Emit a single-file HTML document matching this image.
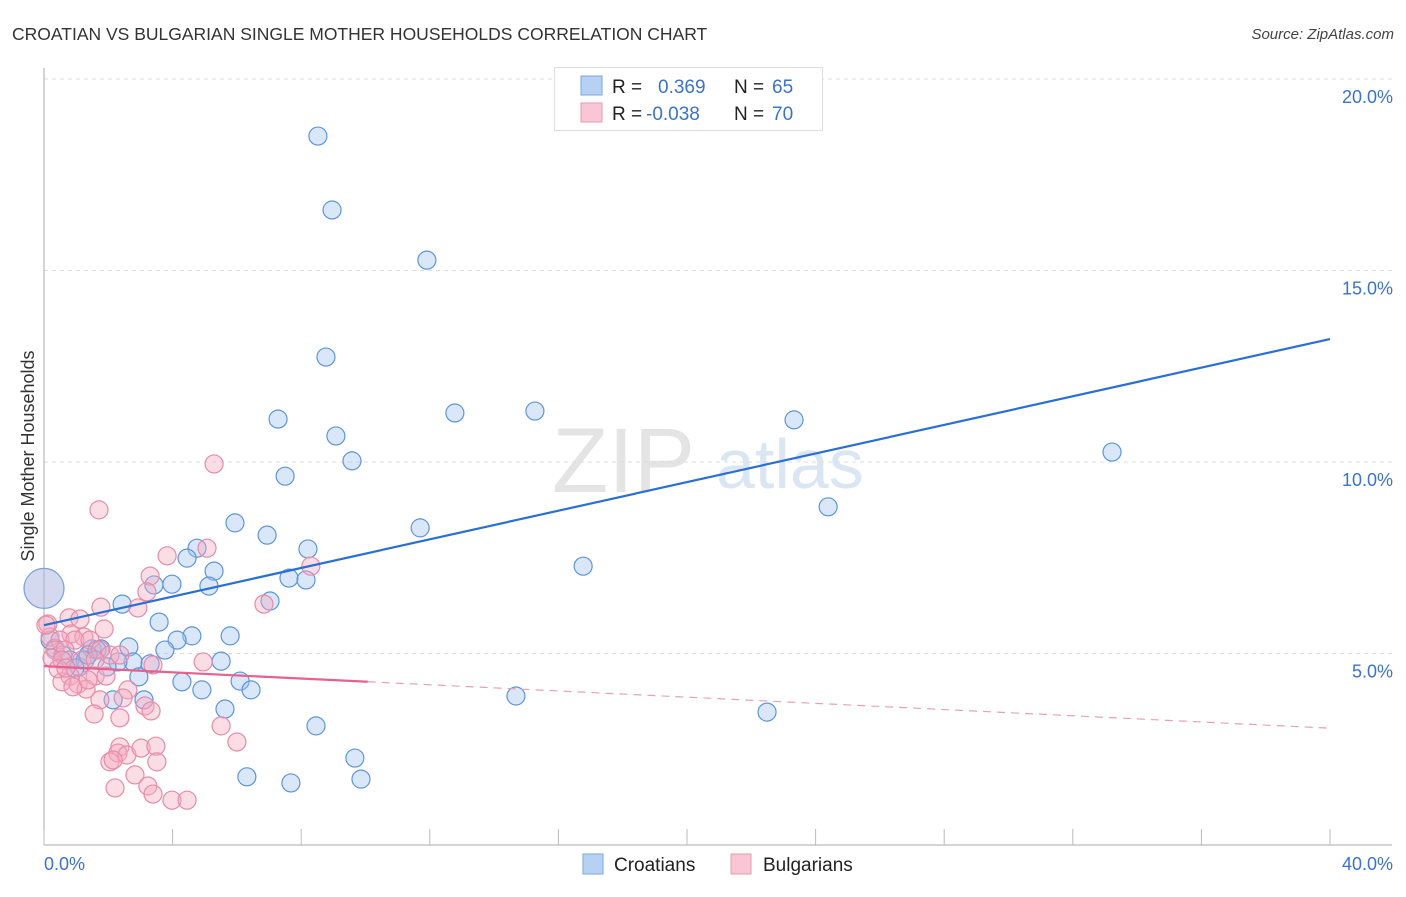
<!DOCTYPE html>
<html><head><meta charset="utf-8"><style>
body{margin:0;background:#fff;font-family:"Liberation Sans",sans-serif}
svg text{font-family:"Liberation Sans",sans-serif}
</style></head><body>
<svg id="chart" width="1406" height="892" viewBox="0 0 1406 892" xmlns="http://www.w3.org/2000/svg">
<text x="12" y="40" font-size="17.5" fill="#333">CROATIAN VS BULGARIAN SINGLE MOTHER HOUSEHOLDS CORRELATION CHART</text>
<text x="1394" y="39" font-size="15" fill="#444" font-style="italic" text-anchor="end">Source: ZipAtlas.com</text>
<g>
<text x="552" y="492" font-size="92" fill="#e4e4e4" font-family="Liberation Serif,serif">ZIP</text>
<text x="716" y="488" font-size="70" fill="#dbe6f5">atlas</text>
</g>
<g id="grid"></g>
<g id="axes"></g>
<g id="marks"></g>
<text transform="translate(34,456) rotate(-90)" font-size="18" fill="#333" text-anchor="middle">Single Mother Households</text>
<g>
<rect x="554.5" y="67.5" width="268" height="63" fill="#fff" stroke="#ddd"/>
<rect x="581" y="76" width="21" height="19" fill="#b7d1f5" stroke="#7aa6e3"/>
<rect x="581" y="103" width="21" height="19" fill="#f8c6d5" stroke="#eb98b0"/>
<text x="612" y="93" font-size="19" fill="#222">R =</text>
<text x="658" y="93" font-size="19" fill="#3a72cf">0.369</text>
<text x="734" y="93" font-size="19" fill="#222">N =</text>
<text x="772" y="93" font-size="19" fill="#3a72cf">65</text>
<text x="612" y="120" font-size="19" fill="#222">R =</text>
<text x="646" y="120" font-size="19" fill="#3a72cf">-0.038</text>
<text x="734" y="120" font-size="19" fill="#222">N =</text>
<text x="772" y="120" font-size="19" fill="#3a72cf">70</text>
</g>
<g>
<rect x="583" y="854" width="20" height="20" fill="#b7d1f5" stroke="#7aa6e3"/>
<text x="614" y="871" font-size="19" fill="#222">Croatians</text>
<rect x="731" y="854" width="20" height="20" fill="#f8c6d5" stroke="#eb98b0"/>
<text x="763" y="871" font-size="19" fill="#222">Bulgarians</text>
</g>
</svg>
<script>
const yTicks=[5,10,15,20];
const yTickLabels=["5.0%","10.0%","15.0%","20.0%"];
const xTicks=[0,4,8,12,16,20,24,28,32,36,40];
const croatianX=[8.52,8.96,11.91,8.77,7.28,12.78,15.27,9.08,9.58,7.50,23.33,33.22,24.39,5.94,11.70,6.94,4.76,8.21,4.45,5.29,16.77,7.62,8.15,3.98,3.42,5.13,7.03,2.43,3.58,5.79,4.60,4.14,2.64,3.76,1.77,1.49,2.77,2.30,3.30,5.51,1.96,1.09,2.95,4.29,6.10,4.91,6.44,2.15,3.11,14.68,5.63,22.49,8.46,9.67,6.31,9.86,7.68,0.34,0.59,0.81,1.28,0.96,0.19,1.65,1.37];
const croatianY=[18.51,16.58,15.27,12.74,11.12,11.28,11.33,10.68,10.03,9.63,11.10,10.26,8.83,8.41,8.28,8.09,7.75,7.73,7.49,7.15,7.28,6.97,6.92,6.81,6.79,6.76,6.37,6.29,5.82,5.46,5.46,5.35,5.17,5.09,5.12,5.12,4.78,4.78,4.73,4.80,4.65,4.65,4.39,4.26,4.28,4.05,4.05,3.79,3.79,3.89,3.55,3.47,3.11,2.27,1.78,1.72,1.62,5.14,4.96,4.83,4.83,4.62,5.35,5.09,4.96];
const bulgarianX=[5.29,1.71,3.83,5.07,8.30,3.30,3.20,2.92,1.77,6.84,0.78,1.12,0.12,0.84,1.87,0.19,1.24,0.50,0.96,1.43,0.34,0.65,1.74,2.05,0.25,0.56,1.18,1.59,2.36,3.39,4.95,0.81,0.56,1.06,1.31,1.59,1.93,2.61,1.74,2.46,3.14,3.33,2.36,5.51,6.00,2.36,2.30,2.58,3.02,3.48,2.05,2.15,2.83,3.51,3.23,2.21,3.39,3.98,4.45,1.56,0.44,0.90,0.68,1.37,0.06];
const bulgarianY=[9.95,8.75,7.55,7.75,7.28,7.02,6.61,6.19,6.21,6.29,5.93,5.90,5.77,5.51,5.64,5.43,5.43,5.35,5.35,5.35,5.09,5.09,5.09,4.96,4.88,4.83,4.83,4.83,4.96,4.70,4.78,4.41,4.26,4.20,4.07,4.41,4.41,4.05,3.79,3.84,3.63,3.50,3.32,3.11,2.69,2.56,2.40,2.35,2.53,2.58,2.17,2.22,1.83,2.17,1.54,1.49,1.33,1.17,1.17,3.42,4.60,4.13,4.62,4.31,5.74];
const bigPoint=[0,6.7];
const blueTrend=[5.74,13.21];
const pinkTrend=[4.67,3.05];
const pinkSolidEnd=10.07;

const X0=44,X1=1330,Y0=845,PXY=38.3;
const sx=v=>X0+(X1-X0)*v/40;
const sy=v=>Y0-v*PXY;
const NS="http://www.w3.org/2000/svg";
function mk(tag,attrs,parent){const e=document.createElementNS(NS,tag);for(const k in attrs)e.setAttribute(k,attrs[k]);document.getElementById(parent).appendChild(e);return e;}

yTicks.forEach((t,i)=>{
  const g=mk('line',{x1:X0,x2:1392,y1:sy(t),y2:sy(t),stroke:'#ddd','stroke-dasharray':'4,4'},'grid');
  
  
  const l=mk('text',{x:1393,y:sy(t)+24,'font-size':18,fill:'#3a72cf','text-anchor':'end'},'axes');
  l.textContent=yTickLabels[i];
  
  
});
const ya=mk('line',{x1:X0,x2:X0,y1:68,y2:Y0,stroke:'#aaa'},'axes');


const xa=mk('line',{x1:X0,x2:1392,y1:Y0,y2:Y0,stroke:'#aaa'},'axes');


xTicks.forEach(t=>{
  const tk=mk('line',{x1:sx(t),x2:sx(t),y1:829,y2:Y0,stroke:'#bbb'},'axes');
  
  
});
const xl0=mk('text',{x:44,y:870,'font-size':18,fill:'#3a72cf'},'axes');xl0.textContent='0.0%';


const xl1=mk('text',{x:1393,y:870,'font-size':18,fill:'#3a72cf','text-anchor':'end'},'axes');xl1.textContent='40.0%';



croatianX.forEach((x,i)=>{
  const c=mk('circle',{cx:sx(x),cy:sy(croatianY[i]),r:9,fill:'rgba(160,196,240,0.4)',stroke:'#5d95dc','stroke-width':1.2},'marks');
  
  
});
bulgarianX.forEach((x,i)=>{
  const c=mk('circle',{cx:sx(x),cy:sy(bulgarianY[i]),r:9,fill:'rgba(245,170,192,0.4)',stroke:'#e88ba8','stroke-width':1.2},'marks');
  
  
});
const bb=mk('circle',{cx:sx(bigPoint[0]),cy:sy(bigPoint[1]),r:20,fill:'rgba(170,180,225,0.5)',stroke:'#7aa0dd','stroke-width':1.2},'marks');


const bt=mk('line',{x1:sx(0),y1:sy(blueTrend[0]),x2:sx(40),y2:sy(blueTrend[1]),stroke:'#2a6fd6','stroke-width':2.2},'marks');


const pAt=x=>pinkTrend[0]+(pinkTrend[1]-pinkTrend[0])*x/40;
const ps=mk('line',{x1:sx(0),y1:sy(pinkTrend[0]),x2:sx(pinkSolidEnd),y2:sy(pAt(pinkSolidEnd)),stroke:'#e8608c','stroke-width':2.2},'marks');


const pd=mk('line',{x1:sx(pinkSolidEnd),y1:sy(pAt(pinkSolidEnd)),x2:sx(40),y2:sy(pinkTrend[1]),stroke:'#e8a0b5','stroke-width':1.2,'stroke-dasharray':'8,6'},'marks');


</script>
</body></html>
